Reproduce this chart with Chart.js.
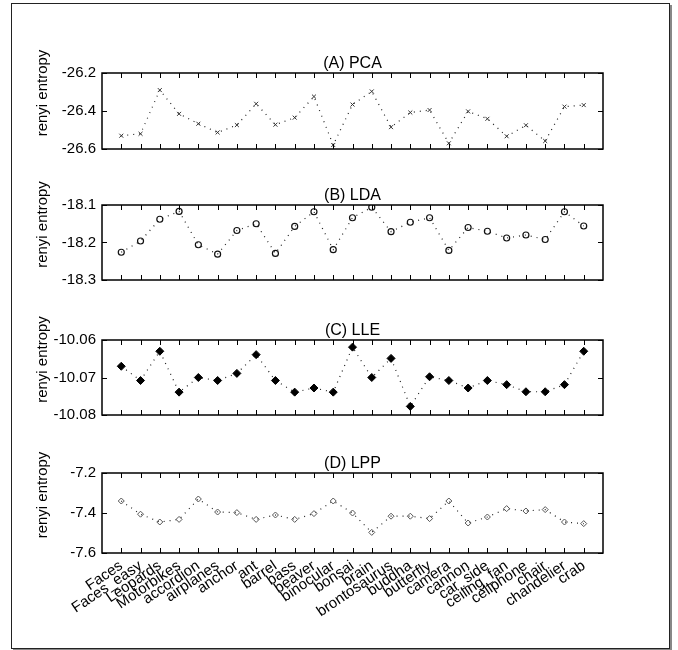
<!DOCTYPE html>
<html lang="en">
<head>
  <meta charset="UTF-8" />
  <title>Renyi entropy per category</title>
  <style>
    body {
      margin: 0;
      background-color: #ffffff;
      font-family: "Liberation Sans", Arial, sans-serif;
    }
    .frame {
      position: absolute;
      left: 11px;
      top: 3px;
      width: 657px;
      height: 644px;
      border: 1px solid #222;
      box-shadow: 2px 2px 0 #888;
    }
    canvas {
      position: absolute;
      left: 0;
    }
  </style>
</head>
<body>
  <div class="frame"></div>
  <canvas id="chartA"></canvas>
  <canvas id="chartB"></canvas>
  <canvas id="chartC"></canvas>
  <canvas id="chartD"></canvas>

  <script src="https://cdn.jsdelivr.net/npm/chart.js"></script>
  <script>
    // categories along the x axis
    const categories = [
      "Faces", "Faces_easy", "Leopards", "Motorbikes", "accordion", "airplanes",
      "anchor", "ant", "barrel", "bass", "beaver", "binocular", "bonsai", "brain",
      "brontosaurus", "buddha", "butterfly", "camera", "cannon", "car_side",
      "ceiling_fan", "cellphone", "chair", "chandelier", "crab"
    ];

    const pcaValues = [
      -26.53, -26.52, -26.29, -26.415, -26.467, -26.513, -26.474, -26.362, -26.472,
      -26.435, -26.324, -26.579, -26.366, -26.297, -26.485, -26.408, -26.395, -26.57,
      -26.402, -26.441, -26.533, -26.475, -26.558, -26.377, -26.369
    ];
    const ldaValues = [
      -18.226, -18.196, -18.138, -18.117, -18.206, -18.231, -18.168, -18.15, -18.229,
      -18.157, -18.118, -18.219, -18.134, -18.106, -18.171, -18.146, -18.134, -18.221,
      -18.16, -18.17, -18.188, -18.18, -18.192, -18.118, -18.156
    ];
    const lleValues = [
      -10.067, -10.0708, -10.063, -10.0739, -10.07, -10.0708, -10.0689, -10.0639, -10.0708,
      -10.0739, -10.0728, -10.0739, -10.0619, -10.07, -10.0649, -10.0777, -10.0698, -10.0708,
      -10.0728, -10.0708, -10.0719, -10.0738, -10.0738, -10.0719, -10.063
    ];
    const lppValues = [
      -7.34, -7.406, -7.445, -7.432, -7.33, -7.395, -7.398, -7.432, -7.41,
      -7.432, -7.403, -7.34, -7.4, -7.497, -7.416, -7.416, -7.428, -7.34,
      -7.45, -7.42, -7.378, -7.39, -7.383, -7.445, -7.453
    ];

    // y tick labels per panel
    const yTicksA = [-26.6, -26.4, -26.2];
    const yTicksB = [-18.3, -18.2, -18.1];
    const yTicksC = [-10.08, -10.07, -10.06];
    const yTicksD = [-7.6, -7.4, -7.2];

    const FONT = "'Liberation Sans', Arial, sans-serif";
    const TOP_H = 45;

    // gnuplot style frame with inward ticks, panel title and y label
    const frameTicks = {
      id: "frameTicks",
      afterDraw(chart, args, opts) {
        const { ctx, chartArea: a, scales } = chart;
        ctx.save();
        ctx.strokeStyle = "#000";
        ctx.lineWidth = 1;
        ctx.beginPath();
        scales.x.ticks.forEach(t => {
          const px = Math.round(scales.x.getPixelForValue(t.value)) + 0.5;
          ctx.moveTo(px, a.bottom); ctx.lineTo(px, a.bottom - 5);
          ctx.moveTo(px, a.top); ctx.lineTo(px, a.top + 5);
        });
        scales.y.ticks.forEach(t => {
          const py = Math.round(scales.y.getPixelForValue(t.value)) + 0.5;
          ctx.moveTo(a.left, py); ctx.lineTo(a.left + 5, py);
          ctx.moveTo(a.right, py); ctx.lineTo(a.right - 5, py);
        });
        ctx.stroke();
        ctx.lineWidth = 1.5;
        ctx.strokeRect(a.left, a.top, a.right - a.left, a.bottom - a.top);

        ctx.fillStyle = "#000";
        ctx.font = "16px " + FONT;
        ctx.textAlign = "center";
        ctx.textBaseline = "alphabetic";
        ctx.fillText(opts.title, (a.left + a.right) / 2, a.top - 5);

        ctx.font = "15px " + FONT;
        ctx.translate(43, (a.top + a.bottom) / 2 - 18);
        ctx.rotate(-Math.PI / 2);
        ctx.textBaseline = "middle";
        ctx.fillText("renyi entropy", 0, 0);
        ctx.restore();
      }
    };

    function makePanel(id, title, values, yTicks, decimals, plotTop, plotH, showLabels, marker) {
      const xH = showLabels ? 95 : 0;
      const bottomPad = showLabels ? 0 : 10;
      const canvas = document.getElementById(id);
      canvas.width = 678;
      canvas.height = TOP_H + plotH + xH + bottomPad;
      canvas.style.top = (plotTop - TOP_H) + "px";

      return new Chart(canvas.getContext("2d"), {
        type: "line",
        data: {
          datasets: [{
            data: values.map((v, i) => ({ x: i + 1, y: v })),
            borderColor: "#222",
            borderWidth: 1.2,
            borderDash: [1, 5],
            pointStyle: marker.style,
            pointRadius: marker.radius,
            pointBorderWidth: marker.width,
            pointBorderColor: marker.color,
            pointBackgroundColor: marker.fill,
            tension: 0
          }]
        },
        options: {
          responsive: false,
          animation: false,
          layout: { padding: { left: 20, right: 75, top: TOP_H, bottom: bottomPad } },
          plugins: {
            legend: { display: false },
            tooltip: { enabled: false },
            title: { display: false },
            frameTicks: { title: title }
          },
          scales: {
            x: {
              type: "linear",
              min: 0,
              max: 26,
              grid: { display: false, drawTicks: false },
              border: { display: false },
              afterBuildTicks: s => { s.ticks = categories.map((c, i) => ({ value: i + 1 })); },
              afterFit: s => { s.height = xH; },
              ticks: {
                display: showLabels,
                autoSkip: false,
                minRotation: 34,
                maxRotation: 34,
                padding: 4,
                color: "#000",
                font: { family: FONT, size: 15 },
                callback: v => categories[v - 1] || ""
              }
            },
            y: {
              min: yTicks[0],
              max: yTicks[yTicks.length - 1],
              grid: { display: false, drawTicks: false },
              border: { display: false },
              afterBuildTicks: s => { s.ticks = yTicks.map(v => ({ value: v })); },
              afterFit: s => { s.width = 82; },
              ticks: {
                padding: 6,
                color: "#000",
                font: { family: FONT, size: 15 },
                callback: v => Number(v).toFixed(decimals)
              }
            }
          }
        },
        plugins: [frameTicks]
      });
    }

    makePanel("chartA", "(A) PCA", pcaValues, yTicksA, 1, 73, 81, false,
      { style: "crossRot", radius: 2.8, width: 1, color: "#333", fill: "#333" });
    makePanel("chartB", "(B) LDA", ldaValues, yTicksB, 1, 205, 80, false,
      { style: "circle", radius: 3, width: 1.2, color: "#111", fill: "rgba(0,0,0,0)" });
    makePanel("chartC", "(C) LLE", lleValues, yTicksC, 2, 340, 80, false,
      { style: "rectRot", radius: 4, width: 1, color: "#000", fill: "#000" });
    makePanel("chartD", "(D) LPP", lppValues, yTicksD, 1, 473, 80, true,
      { style: "rectRot", radius: 3, width: 1, color: "#555", fill: "rgba(0,0,0,0)" });
  </script>
</body>
</html>
